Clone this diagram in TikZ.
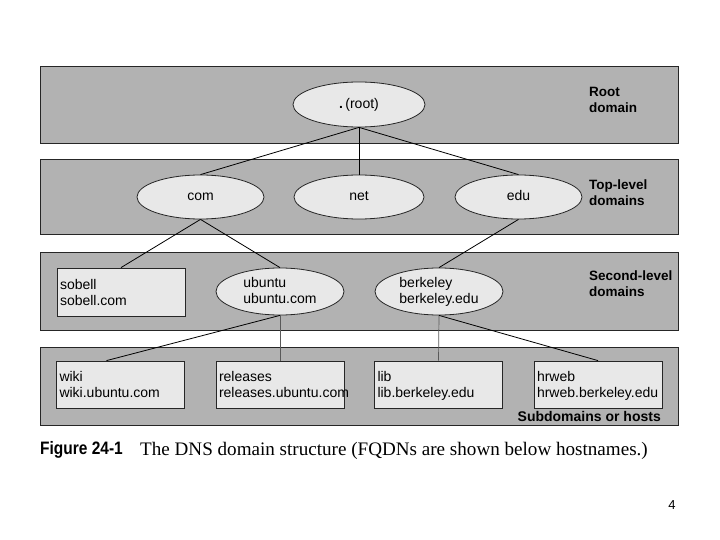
\documentclass[tikz,border=0pt]{standalone}
\usepackage{fontspec}
\setmainfont{Liberation Sans}
\newfontfamily\capserif{Liberation Serif}
\newfontfamily\capcond[FakeStretch=0.86]{Liberation Sans}
\usetikzlibrary{shapes.geometric}
\definecolor{band}{gray}{0.70}
\definecolor{light}{gray}{0.91}
\definecolor{edge}{gray}{0.15}
\begin{document}
\begin{tikzpicture}[x=1pt,y=-1pt,
  bandbox/.style={draw=edge,line width=0.9pt,fill=band},
  oval/.style={ellipse,draw=edge,line width=0.8pt,fill=light,inner sep=0pt,align=left,font=\fontsize{14}{16}\selectfont},
  oneline/.style={text height=8pt,text depth=0pt},
  twoline/.style={text height=26pt,text depth=2pt},
  hostbox/.style={rectangle,draw=edge,line width=0.8pt,fill=light,inner sep=3pt,minimum width=128pt,minimum height=47pt,text width=122pt,align=left,text height=11pt,text depth=17pt,font=\fontsize{14}{16}\selectfont},
  levellabel/.style={anchor=west,align=left,inner sep=0pt,font=\bfseries\fontsize{13.5}{16}\selectfont},
  link/.style={draw=black,line width=0.8pt},
  vlink/.style={draw=gray!70!black,line width=0.7pt}]
\useasboundingbox (0,0) rectangle (720,540);
\fill[white] (0,0) rectangle (720,540);
% bands
\path[bandbox] (40,66) rectangle (678,143);
\path[bandbox] (40,159) rectangle (678,234);
\path[bandbox] (40,252) rectangle (678,330);
\path[bandbox] (40,347) rectangle (678,425);
% level labels
\node[levellabel] (lroot) at (589,100) {Root\\domain};
\node[levellabel] (ltop) at (589,193) {Top-level\\domains};
\node[levellabel] (lsec) at (589,284) {Second-level\\domains};
\node[levellabel,anchor=east,font=\bfseries\fontsize{14}{16}\selectfont] (lsub) at (661,416) {Subdomains or hosts};
% nodes
\node[oval,oneline,minimum width=132pt,minimum height=45pt] (root) at (359,104.5) {\textbf{.}\,(root)};
\node[oval,oneline,minimum width=127pt,minimum height=44pt] (com) at (200.5,197) {com};
\node[oval,oneline,minimum width=130pt,minimum height=44pt] (net) at (359,197) {net};
\node[oval,oneline,minimum width=127pt,minimum height=44pt] (edu) at (518.5,197) {edu};
\node[hostbox,minimum height=48pt] (sobell) at (121,292) {sobell\\sobell.com};
\node[oval,twoline,minimum width=128pt,minimum height=47pt] (ubuntu) at (280,291.5) {ubuntu\\ubuntu.com};
\node[oval,twoline,minimum width=128pt,minimum height=47pt] (berkeley) at (439,291.5) {berkeley\\berkeley.edu};
\node[hostbox] (wiki) at (120.5,384.5) {wiki\\wiki.ubuntu.com};
\node[hostbox] (releases) at (280,384.5) {releases\\releases.ubuntu.com};
\node[hostbox] (lib) at (438.5,384.5) {lib\\lib.berkeley.edu};
\node[hostbox] (hrweb) at (598,384.5) {hrweb\\hrweb.berkeley.edu};
% connectors
\draw[link] (root.south) -- (com.north);
\draw[link] (root.south) -- (net.north);
\draw[link] (root.south) -- (edu.north);
\draw[link] (com.south) -- (sobell.north);
\draw[link] (com.south) -- (ubuntu.north);
\draw[link] (edu.south) -- (berkeley.north);
\draw[link] (ubuntu.south) -- ([xshift=-14pt]wiki.north);
\draw[vlink] (ubuntu.south) -- (releases.north);
\draw[vlink] (berkeley.south) -- (lib.north);
\draw[link] (berkeley.south) -- (hrweb.north);
% caption
\node[anchor=west,inner sep=0pt,font=\capcond\bfseries\fontsize{18}{20}\selectfont] (figlabel) at (40,450) {Figure 24-1};
\node[anchor=west,inner sep=0pt,font=\capserif\fontsize{19.1}{22}\selectfont] (figtext) at (140,450.5) {The DNS domain structure (FQDNs are shown below hostnames.)};
\node[inner sep=0pt,font=\fontsize{13}{15}\selectfont] (pagenum) at (672,505) {4};
\end{tikzpicture}
\end{document}
